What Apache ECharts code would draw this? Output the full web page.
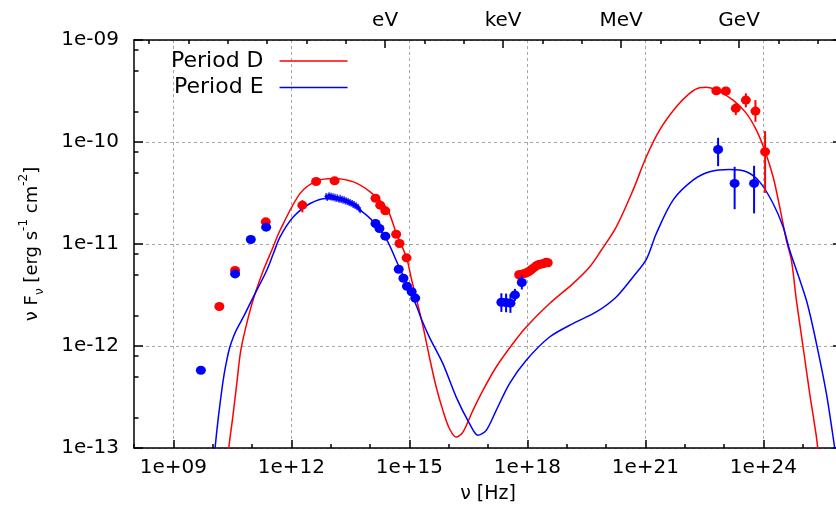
<!DOCTYPE html>
<html><head><meta charset="utf-8">
<script src="https://cdn.jsdelivr.net/npm/echarts@6/dist/echarts.min.js"></script>
<style>html,body{margin:0;padding:0;background:#fff}#c{width:836px;height:510px}</style>
</head><body><div id="c"></div>
<script>
// ---------- axis / tick definitions (log10 units) ----------
const X_MIN = 8, X_MAX = 26, Y_MIN = -13, Y_MAX = -9;
const xMajorLog = [9, 12, 15, 18, 21, 24];
const xTickLabels = ['1e+09', '1e+12', '1e+15', '1e+18', '1e+21', '1e+24'];
const yMajorLog = [-13, -12, -11, -10, -9];
const yTickLabels = ['1e-13', '1e-12', '1e-11', '1e-10', '1e-09'];
const yMinorMantissa = [2, 5, 8];
const EV_LOG_HZ = 14.3835;               // log10 of 1 eV in Hz
const energyLabels = ['eV', 'keV', 'MeV', 'GeV'];
const energyLabelLogEv = [0, 3, 6, 9];
const energyTickLogEv = [-6, -5, -4, -3, -2, -1, 0, 1, 2, 3, 4, 5, 6, 7, 8, 9, 10, 11];

// ---------- model curves (log10 nu [Hz], log10 nuFnu) ----------
const modelD_logNu = [10.386, 10.409, 10.511, 10.613, 10.715, 10.908, 11.078, 11.290, 11.503, 11.714, 12.223, 12.648, 13.070, 13.579, 14.004, 14.429, 14.665, 14.93, 15.06, 15.19, 15.353, 15.512, 15.683, 15.853, 16.021, 16.192, 16.362, 16.617, 16.871, 17.209, 17.634, 17.972, 18.565, 19.160, 19.583, 19.880, 20.262, 20.687, 21.025, 21.363, 21.788, 22.126, 22.381, 22.551, 22.806, 23.231, 23.569, 23.823, 24.034, 24.248, 24.416, 24.586, 24.714, 24.841, 25.011, 25.179, 25.350, 25.413];
const modelD_logF  = [-13.12, -13.0, -12.697, -12.369, -12.042, -11.715, -11.486, -11.257, -11.061, -10.865, -10.504, -10.381, -10.357, -10.391, -10.489, -10.652, -10.89, -11.136, -11.355, -11.552, -11.817, -12.111, -12.402, -12.631, -12.811, -12.893, -12.844, -12.631, -12.435, -12.206, -11.976, -11.814, -11.584, -11.388, -11.225, -11.061, -10.832, -10.472, -10.145, -9.883, -9.655, -9.523, -9.468, -9.464, -9.491, -9.589, -9.719, -9.883, -10.080, -10.341, -10.636, -10.963, -11.159, -11.552, -12.010, -12.467, -12.893, -13.122];

const modelE_logNu = [10.040, 10.061, 10.145, 10.231, 10.29, 10.358, 10.43, 10.526, 10.62, 10.781, 10.93, 11.122, 11.376, 11.544, 11.714, 12.053, 12.477, 12.902, 13.411, 13.749, 14.088, 14.429, 14.683, 14.937, 15.192, 15.319, 15.512, 15.853, 16.192, 16.530, 16.744, 16.955, 17.209, 17.547, 17.972, 18.565, 19.160, 19.753, 20.262, 20.687, 21.025, 21.279, 21.704, 22.213, 22.635, 23.144, 23.569, 23.907, 24.248, 24.502, 24.670, 25.095, 25.350, 25.604, 25.815, 25.858];
const modelE_logF  = [-13.12, -13.0, -12.697, -12.435, -12.28, -12.140, -12.02, -11.912, -11.83, -11.715, -11.60, -11.453, -11.257, -11.093, -10.930, -10.734, -10.603, -10.553, -10.587, -10.668, -10.783, -10.963, -11.176, -11.388, -11.617, -11.748, -11.915, -12.173, -12.501, -12.761, -12.876, -12.827, -12.631, -12.369, -12.140, -11.912, -11.780, -11.666, -11.519, -11.323, -11.150, -10.897, -10.570, -10.374, -10.292, -10.269, -10.292, -10.391, -10.603, -10.832, -11.061, -11.552, -11.976, -12.467, -13.0, -13.12];

// ---------- Period D data points ----------
const ptsD_logNu = [10.17, 10.57, 11.35, 12.28, 12.63, 13.10, 14.14, 14.26, 14.39, 14.665, 14.75, 14.93];
const ptsD_logF  = [-11.613, -11.26, -10.783, -10.619, -10.387, -10.381, -10.551, -10.619, -10.675, -10.904, -10.995, -11.136];
const errD_logNu = [12.28];
const errD_lo    = [-10.69];
const errD_hi    = [-10.57];

const xrayD_logNu = [17.78, 17.83, 17.87, 17.91, 17.95, 17.99, 18.03, 18.07, 18.10, 18.14, 18.18, 18.22, 18.25, 18.29, 18.33, 18.37, 18.41, 18.45, 18.48, 18.53];
const xrayD_logF  = [-11.301, -11.298, -11.296, -11.291, -11.287, -11.280, -11.272, -11.262, -11.252, -11.240, -11.228, -11.216, -11.208, -11.202, -11.198, -11.195, -11.193, -11.186, -11.179, -11.184];

const gamD_logNu = [22.805, 23.047, 23.30, 23.556, 23.80, 24.045];
const gamD_logF  = [-9.498, -9.50, -9.670, -9.589, -9.697, -10.096];
const gamD_lo    = [-9.53, -9.53, -9.736, -9.660, -9.802, -10.499];
const gamD_hi    = [-9.47, -9.47, -9.621, -9.523, -9.589, -9.893];

// ---------- Period E data points ----------
const ptsE_logNu = [9.70, 10.57, 10.97, 11.36, 14.14, 14.24, 14.39, 14.73, 14.85, 14.94, 15.06, 15.15];
const ptsE_logF  = [-12.238, -11.293, -10.956, -10.835, -10.799, -10.848, -10.923, -11.247, -11.336, -11.414, -11.468, -11.53];

const specE_logNu = [12.884, 12.91, 12.935, 12.96, 12.986, 13.01, 13.037, 13.06, 13.088, 13.11, 13.139, 13.165, 13.190, 13.215, 13.240, 13.265, 13.291, 13.315, 13.342, 13.37, 13.393, 13.42, 13.444, 13.47, 13.495, 13.52, 13.546, 13.57, 13.596, 13.62, 13.647, 13.67, 13.698, 13.72, 13.749];
const specE_logF  = [-10.531, -10.548, -10.536, -10.522, -10.541, -10.528, -10.546, -10.533, -10.551, -10.538, -10.559, -10.543, -10.556, -10.566, -10.548, -10.569, -10.556, -10.575, -10.562, -10.583, -10.571, -10.588, -10.580, -10.597, -10.590, -10.606, -10.598, -10.617, -10.609, -10.627, -10.620, -10.640, -10.636, -10.655, -10.668];

const xrayE_logNu = [17.34, 17.46, 17.57, 17.685, 17.86];
const xrayE_logF  = [-11.571, -11.574, -11.58, -11.499, -11.378];
const xrayE_lo    = [-11.666, -11.669, -11.675, -11.558, -11.446];
const xrayE_hi    = [-11.483, -11.486, -11.492, -11.440, -11.309];

const gamE_logNu = [22.85, 23.27, 23.765];
const gamE_logF  = [-10.073, -10.406, -10.406];
const gamE_lo    = [-10.237, -10.659, -10.70];
const gamE_hi    = [-9.959, -10.243, -10.233];

// ---------- build ----------
const FONT = 'DejaVu Sans';
const RED = '#ff0000', BLUE = '#0000ff';
const zip = (a, b) => a.map((v, i) => [v, b[i]]);
const yMinorLog = [];
for (let d = Y_MIN; d < Y_MAX; d++) yMinorMantissa.forEach(m => yMinorLog.push(d + Math.log10(m)));
const energyTicks = energyTickLogEv.map(e => EV_LOG_HZ + e);
const energyLabelPos = energyLabelLogEv.map(e => EV_LOG_HZ + e);

function errSeries(xs, lo, hi, color, z, w) {
  return {
    type: 'custom', xAxisIndex: 0, yAxisIndex: 0, z: z, silent: true,
    data: xs.map((x, i) => [x, lo[i], hi[i]]),
    encode: { x: 0, y: [1, 2] },
    renderItem: (params, api) => {
      const p1 = api.coord([api.value(0), api.value(1)]);
      const p2 = api.coord([api.value(0), api.value(2)]);
      return { type: 'line', shape: { x1: p1[0], y1: p1[1], x2: p2[0], y2: p2[1] },
               style: { stroke: color, lineWidth: w || 2 } };
    }
  };
}
function ptSeries(xs, ys, color, size, z) {
  return { type: 'scatter', xAxisIndex: 0, yAxisIndex: 0, z: z, silent: true,
    symbol: 'circle', symbolSize: size, itemStyle: { color: color, opacity: 1 },
    data: zip(xs, ys) };
}
function lineSeries(name, xs, ys, color) {
  return { name: name, type: 'line', xAxisIndex: 0, yAxisIndex: 0, z: 5,
    data: zip(xs, ys), symbol: 'none', showSymbol: false, smooth: 0.3, clip: true,
    lineStyle: { color: color, width: 1.5 }, itemStyle: { color: color } };
}
const axisLineStyle = { color: '#000', width: 1.5 };
const tickStyle = { color: '#000', width: 1.5 };
const gridLine = { show: true, lineStyle: { color: '#a8a8a8', width: 1, type: [3, 3] } };

const chart = echarts.init(document.getElementById('c'), null, { renderer: 'canvas' });
chart.setOption({
  animation: false,
  backgroundColor: '#fff',
  grid: { left: 134, top: 40, width: 708, height: 408, containLabel: false, outerBoundsMode: 'none' },
  legend: {
    data: [{ name: 'Period D', icon: 'rect' }, { name: 'Period E', icon: 'rect' }],
    orient: 'vertical', left: 166, top: 45,
    align: 'right', itemWidth: 68, itemHeight: 1.6, itemGap: 4.5,
    textStyle: { fontFamily: FONT, fontSize: 22, color: '#000', lineHeight: 22, padding: [0, 11, 0, 0] }
  },
  xAxis: [
    { type: 'value', position: 'bottom', min: X_MIN, max: X_MAX,
      axisLine: { show: true, onZero: false, lineStyle: axisLineStyle },
      axisTick: { show: true, inside: true, length: 8, customValues: xMajorLog, lineStyle: tickStyle },
      axisLabel: { show: true, customValues: xMajorLog, margin: 10,
        formatter: v => xTickLabels[xMajorLog.indexOf(Math.round(v))] || '',
        fontFamily: FONT, fontSize: 20, color: '#000' },
      splitLine: gridLine,
      name: 'ν [Hz]', nameLocation: 'middle', nameGap: 37,
      nameTextStyle: { fontFamily: FONT, fontSize: 19, color: '#000' } },
    { type: 'value', position: 'bottom', min: X_MIN, max: X_MAX, interval: 1,
      axisLine: { show: false, onZero: false },
      axisTick: { show: true, inside: true, length: 4, lineStyle: tickStyle },
      axisLabel: { show: false }, splitLine: { show: false } },
    { type: 'value', position: 'top', min: X_MIN, max: X_MAX,
      axisLine: { show: true, onZero: false, lineStyle: axisLineStyle },
      axisTick: { show: true, inside: true, length: 4, customValues: energyTicks, lineStyle: tickStyle },
      axisLabel: { show: false }, splitLine: { show: false } },
    { type: 'value', position: 'top', min: X_MIN, max: X_MAX,
      axisLine: { show: false, onZero: false },
      axisTick: { show: true, inside: true, length: 8, customValues: energyLabelPos, lineStyle: tickStyle },
      axisLabel: { show: true, customValues: energyLabelPos, margin: 9,
        formatter: v => { let best = 0, bd = 1e9; energyLabelPos.forEach((p, i) => { if (Math.abs(p - v) < bd) { bd = Math.abs(p - v); best = i; } }); return energyLabels[best]; },
        fontFamily: FONT, fontSize: 20, color: '#000' },
      splitLine: { show: false } }
  ],
  yAxis: [
    { type: 'value', position: 'left', min: Y_MIN, max: Y_MAX, interval: 1,
      axisLine: { show: true, onZero: false, lineStyle: axisLineStyle },
      axisTick: { show: true, inside: true, length: 9, lineStyle: tickStyle },
      axisLabel: { show: true, margin: 15,
        formatter: v => yTickLabels[yMajorLog.indexOf(Math.round(v))] || '',
        fontFamily: FONT, fontSize: 20, color: '#000' },
      splitLine: gridLine,
      name: '{a|ν F}{sub|ν}{a| [erg s}{sup|-1}{a| cm}{sup|-2}{a|]}',
      nameLocation: 'middle', nameGap: 88, nameRotate: 90,
      nameTextStyle: { fontFamily: FONT, fontSize: 18, color: '#000',
        rich: {
          a: { fontFamily: FONT, fontSize: 18, color: '#000', lineHeight: 28, verticalAlign: 'middle' },
          sub: { fontFamily: FONT, fontSize: 12, color: '#000', lineHeight: 14, verticalAlign: 'bottom' },
          sup: { fontFamily: FONT, fontSize: 12, color: '#000', lineHeight: 14, verticalAlign: 'top' }
        } } },
    { type: 'value', position: 'left', min: Y_MIN, max: Y_MAX,
      axisLine: { show: false, onZero: false },
      axisTick: { show: true, inside: true, length: 4.5, customValues: yMinorLog, lineStyle: tickStyle },
      axisLabel: { show: false }, splitLine: { show: false } },
    { type: 'value', position: 'right', min: Y_MIN, max: Y_MAX, interval: 1,
      axisLine: { show: true, onZero: false, lineStyle: axisLineStyle },
      axisTick: { show: true, inside: true, length: 9, lineStyle: tickStyle },
      axisLabel: { show: false }, splitLine: { show: false } }
  ],
  series: [
    lineSeries('Period D', modelD_logNu, modelD_logF, RED),
    lineSeries('Period E', modelE_logNu, modelE_logF, BLUE),
    errSeries(errD_logNu, errD_lo, errD_hi, RED, 10),
    errSeries(gamD_logNu, gamD_lo, gamD_hi, RED, 10),
    errSeries(xrayD_logNu, xrayD_logF.map(v => v - 0.035), xrayD_logF.map(v => v + 0.035), RED, 10),
    ptSeries(ptsD_logNu, ptsD_logF, RED, [10, 9], 11),
    ptSeries(xrayD_logNu, xrayD_logF, RED, [9, 9], 11),
    ptSeries(gamD_logNu, gamD_logF, RED, [10, 9], 11),
    errSeries(xrayE_logNu, xrayE_lo, xrayE_hi, BLUE, 12),
    errSeries(gamE_logNu, gamE_lo, gamE_hi, BLUE, 12),
    errSeries(specE_logNu, specE_logF.map(v => v - 0.03), specE_logF.map(v => v + 0.03), BLUE, 12, 1.2),
    ptSeries(ptsE_logNu, ptsE_logF, BLUE, [10, 9], 13),
    ptSeries(specE_logNu, specE_logF, BLUE, [3, 3], 13),
    ptSeries(xrayE_logNu, xrayE_logF, BLUE, [10, 9], 13),
    ptSeries(gamE_logNu, gamE_logF, BLUE, [10, 9], 13)
  ]
});
</script></body></html>
